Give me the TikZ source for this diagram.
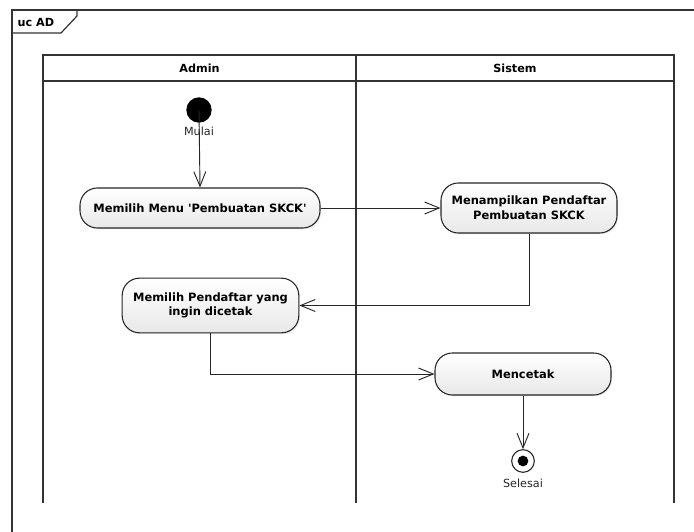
\documentclass[tikz,border=0pt]{standalone}
\usepackage{fontspec}
\setmainfont{DejaVu Sans}
\usetikzlibrary{arrows.meta,positioning,shadows}
\tikzset{
  aksi/.style={draw=black!85, line width=0.8pt, rounded corners=13pt, align=center,
    top color=white, bottom color=black!9, font=\bfseries\fontsize{8.6}{11}\selectfont,
    drop shadow={shadow xshift=1pt, shadow yshift=-1pt, opacity=0.15}},
  alur/.style={draw=black!85, line width=0.7pt, -{Straight Barb[length=11pt,width=9pt]}},
  garis/.style={draw=black!80, line width=0.9pt},
  label/.style={font=\fontsize{8.4}{10}\selectfont, text=black!85}
}
\begin{document}
\begin{tikzpicture}[x=0.75pt,y=-0.75pt]
  \useasboundingbox (0,0) rectangle (694,532);
  % frame
  \draw [garis] (12,545) -- (12,10) -- (700,10);
  \draw [garis] (12,33) -- (61,33) -- (77,16) -- (77,10);
  \node [font=\bfseries\fontsize{8.4}{10}\selectfont, anchor=west] (judul) at (13,22) {uc AD};
  % swimlanes
  \draw [garis] (43,503) -- (43,55) -- (674,55) -- (674,503);
  \draw [garis] (43,81) -- (674,81);
  \draw [garis] (356,55) -- (356,503);
  \node [font=\bfseries\fontsize{8.4}{10}\selectfont] (admin) at (199.5,68) {Admin};
  \node [font=\bfseries\fontsize{8.4}{10}\selectfont] (sistem) at (515,68) {Sistem};
  % start
  \node [circle, fill=black, minimum size=19pt, inner sep=0pt] (mulai) at (199,110) {};
  \node [label] at (199,131) {Mulai};
  % actions
  \node [aksi, minimum width=180pt, minimum height=30pt] (pilihmenu) at (200,208) {Memilih Menu \textquotesingle Pembuatan SKCK\textquotesingle};
  \node [aksi, minimum width=132pt, minimum height=37.5pt] (tampil) at (529,208) {Menampilkan Pendaftar\\Pembuatan SKCK};
  \node [aksi, minimum width=132.5pt, minimum height=41pt] (pilihdaftar) at (210.5,305.5) {Memilih Pendaftar yang\\ingin dicetak};
  \node [aksi, minimum width=132pt, minimum height=31.5pt] (cetak) at (523,374) {Mencetak};
  % end
  \node [circle, draw=black!85, line width=0.8pt, fill=white, minimum size=17pt, inner sep=0pt] (selesai) at (523,461) {};
  \node [circle, fill=black, minimum size=8pt, inner sep=0pt] at (selesai) {};
  \node [label] at (523,483) {Selesai};
  % flows
  \draw [alur] (mulai.center) -- (pilihmenu.north);
  \draw [alur] (pilihmenu.east) -- (tampil.west);
  \draw [alur] (tampil.south) |- (pilihdaftar.east);
  \draw [alur] (pilihdaftar.south) |- (cetak.west);
  \draw [alur] (cetak.south) -- (selesai.north);
\end{tikzpicture}
\end{document}
